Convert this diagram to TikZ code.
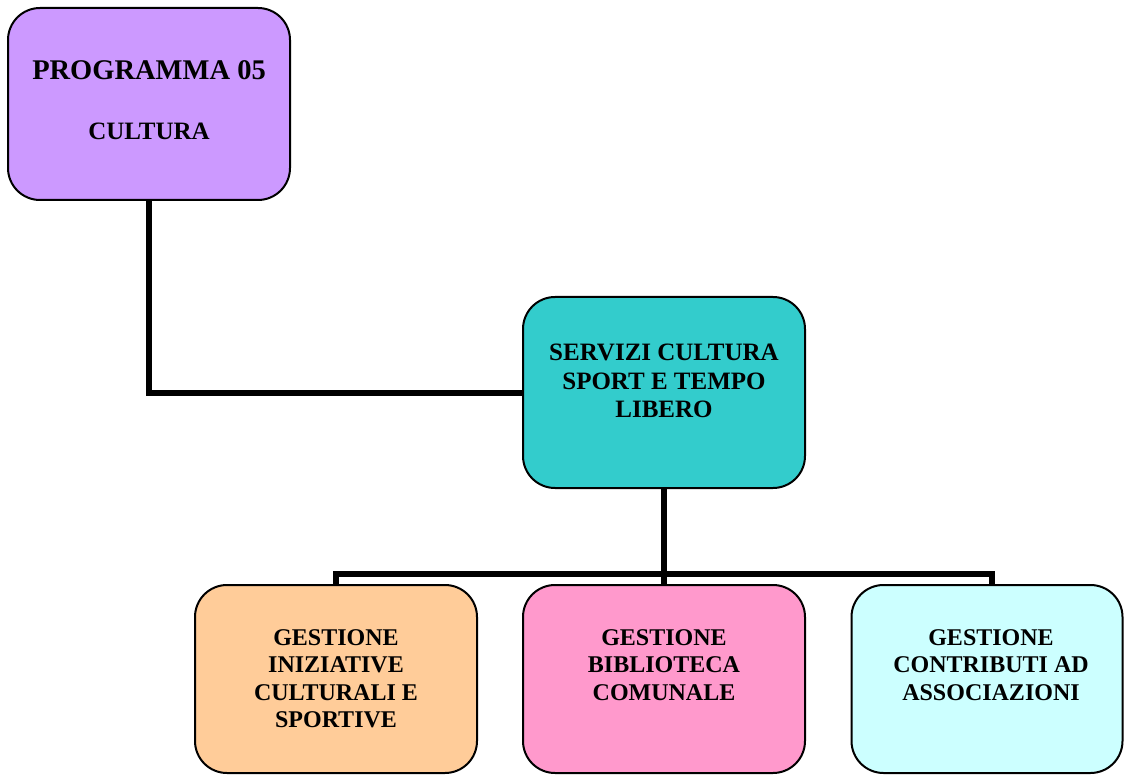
\documentclass[tikz,border=0pt]{standalone}
\usepackage{fontspec}
\setmainfont{Liberation Serif}
\definecolor{cprog}{HTML}{CC99FF}
\definecolor{cserv}{HTML}{33CCCC}
\definecolor{cini}{HTML}{FFCC99}
\definecolor{cbib}{HTML}{FF99CC}
\definecolor{ccon}{HTML}{CCFFFF}
\begin{document}
\begin{tikzpicture}[x=1pt,y=-1pt,
  boxstyle/.style={draw=black,line width=2pt,rounded corners=32pt,inner sep=0pt,minimum width=282pt},
  linkstyle/.style={line width=6pt,line cap=rect},
  txtstyle/.style={inner sep=0pt,align=center,font=\bfseries\fontsize{24}{27.5}\selectfont}]
\useasboundingbox (0,0) rectangle (1124,775);
% boxes
\node[boxstyle,fill=cprog,minimum height=192pt] (prog) at (149,104) {};
\node[boxstyle,fill=cserv,minimum height=191pt] (serv) at (664,392.5) {};
\node[boxstyle,fill=cini,minimum height=188pt] (ini) at (336,679) {};
\node[boxstyle,fill=cbib,minimum height=188pt] (bib) at (664,679) {};
\node[boxstyle,fill=ccon,minimum height=188pt,minimum width=271pt] (con) at (987,679) {};
% connectors
\coordinate (corner) at (prog.south |- serv.west);
\draw[linkstyle,line cap=butt] (prog.south) -- (corner);
\draw[linkstyle,line cap=butt] ([xshift=-3pt]corner) -- (serv.west);
\coordinate (busmid) at (664,574);
\coordinate (busleft) at (336,574);
\coordinate (busright) at (992,574);
\draw[linkstyle,line cap=butt] (serv.south) -- (bib.north);
\draw[linkstyle] (busleft) -- (busright);
\draw[linkstyle,line cap=butt] (busleft) -- (busleft |- ini.north);
\draw[linkstyle,line cap=butt] (busright) -- (busright |- con.north);
% texts
\node[inner sep=0pt,anchor=base,font=\bfseries\fontsize{28.5}{32}\selectfont] (tp1) at (149,80) {PROGRAMMA 05};
\node[inner sep=0pt,anchor=base,font=\bfseries\fontsize{25}{28}\selectfont] (tp2) at (149,140) {CULTURA};
\node[txtstyle,anchor=north,font=\bfseries\fontsize{25}{28.5}\selectfont] (ts) at (664,344) {SERVIZI CULTURA\\SPORT E TEMPO\\LIBERO};
\node[txtstyle,anchor=north] (ti) at (336,629) {GESTIONE\\INIZIATIVE\\CULTURALI E\\SPORTIVE};
\node[txtstyle,anchor=north] (tb) at (664,629) {GESTIONE\\BIBLIOTECA\\COMUNALE};
\node[txtstyle,anchor=north] (tc) at (991,629) {GESTIONE\\CONTRIBUTI AD\\ASSOCIAZIONI};
\end{tikzpicture}
\end{document}
